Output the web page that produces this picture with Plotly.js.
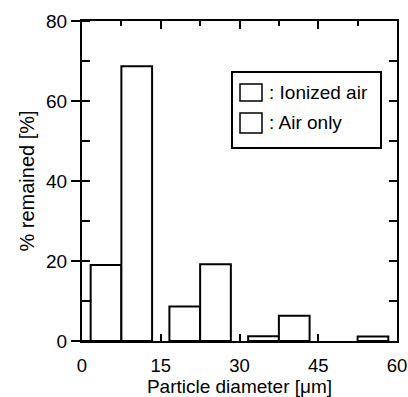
<!DOCTYPE html>
<html>
<head>
<meta charset="utf-8">
<script src="https://cdn.plot.ly/plotly-3.0.1.min.js"></script>
<style>html,body{margin:0;padding:0;background:#fff;}#chart{width:408px;height:397px;}</style>
</head>
<body>
<div id="chart"></div>
<script>
// Data
const binCenters = [7.5, 22.5, 37.5, 52.5];          // particle diameter bins [μm]
const ionizedAir = [19.0, 8.6, 1.2, 0];                // % remained, ionized air
const airOnly    = [68.7, 19.2, 6.3, 1.1];             // % remained, air only
const seriesNames = [': Ionized air', ': Air only'];
const xTickVals = [0, 15, 30, 45, 60];
const yTickVals = [0, 20, 40, 60, 80];

const FONT = 'Liberation Sans, Arial, Helvetica, sans-serif';
const barStyle = vals => ({color: '#ffffff', line: {color: '#000000', width: vals.map(v => v > 0 ? 2 : 0)}});

const traces = [
  {type: 'bar', x: binCenters, y: ionizedAir, name: seriesNames[0], marker: barStyle(ionizedAir), showlegend: false, hoverinfo: 'skip'},
  {type: 'bar', x: binCenters, y: airOnly, name: seriesNames[1], marker: barStyle(airOnly), showlegend: false, hoverinfo: 'skip'}
];

// paper-coordinate helpers for the hand-drawn legend box
const L = 82, R = 397, T = 21, B = 341;
const px = v => (v - L) / (R - L);
const py = v => (B - v) / (B - T);

const layout = {
  width: 408, height: 397,
  margin: {l: 82, r: 11, t: 21, b: 56},
  paper_bgcolor: '#fff', plot_bgcolor: '#fff',
  font: {family: FONT, size: 19, color: '#000'},
  barmode: 'group', bargap: 0.22, bargroupgap: 0,
  showlegend: false,
  xaxis: {
    range: [0, 60], tickvals: xTickVals, ticktext: xTickVals.map(String),
    ticks: 'inside', ticklen: 7, tickwidth: 2, tickcolor: '#000',
    tickfont: {size: 18.5},
    showline: true, linewidth: 2, linecolor: '#000',
    showgrid: false, zeroline: false, ticklabelstandoff: 7,
    title: {text: 'Particle diameter [μm]', font: {size: 19}, standoff: 15},
    automargin: false
  },
  xaxis2: {
    overlaying: 'x', side: 'top', range: [0, 60], matches: 'x',
    tickvals: [15, 30, 45], ticks: 'inside', ticklen: 8, tickwidth: 2, tickcolor: '#000',
    minor: {tickvals: [7.5, 22.5, 37.5, 52.5], ticks: 'inside', ticklen: 5, tickwidth: 2, tickcolor: '#000'},
    showticklabels: false, showline: true, linewidth: 2, linecolor: '#000',
    showgrid: false, zeroline: false
  },
  yaxis: {
    range: [0, 80], tickvals: yTickVals, ticktext: yTickVals.map(String),
    ticks: 'outside', ticklen: 9, tickwidth: 2, tickcolor: '#000',
    tickfont: {size: 19},
    minor: {dtick: 10, ticks: 'inside', ticklen: 8, tickwidth: 2, tickcolor: '#000'},
    showline: true, linewidth: 2, linecolor: '#000',
    showgrid: false, zeroline: false,
    title: {text: '% remained [%]', font: {size: 20}, standoff: 6},
    automargin: false
  },
  yaxis2: {
    overlaying: 'y', side: 'right', range: [0, 80], matches: 'y',
    dtick: 10, ticks: 'inside', ticklen: 8, tickwidth: 2, tickcolor: '#000',
    showticklabels: false, showline: true, linewidth: 2, linecolor: '#000',
    showgrid: false, zeroline: false
  },
  shapes: [
    {type: 'rect', xref: 'paper', yref: 'paper', x0: px(232), x1: px(381), y0: py(148), y1: py(72),
     line: {color: '#000', width: 2}, fillcolor: '#fff', layer: 'above'},
    {type: 'rect', xref: 'paper', yref: 'paper', x0: px(240), x1: px(262), y0: py(101), y1: py(84),
     line: {color: '#000', width: 1.5}, fillcolor: '#fff', layer: 'above'},
    {type: 'rect', xref: 'paper', yref: 'paper', x0: px(240), x1: px(262), y0: py(133), y1: py(113),
     line: {color: '#000', width: 1.5}, fillcolor: '#fff', layer: 'above'}
  ],
  annotations: [
    {xref: 'paper', yref: 'paper', x: px(267), y: py(92), xanchor: 'left', yanchor: 'middle',
     text: seriesNames[0], showarrow: false, font: {size: 19}},
    {xref: 'paper', yref: 'paper', x: px(267), y: py(122), xanchor: 'left', yanchor: 'middle',
     text: seriesNames[1], showarrow: false, font: {size: 19}}
  ]
};

// invisible helper trace so the mirrored top/right axes are drawn
traces.push({type: 'scatter', x: binCenters, y: airOnly, xaxis: 'x2', yaxis: 'y2', mode: 'markers',
  marker: {opacity: 0}, showlegend: false, hoverinfo: 'skip'});

Plotly.newPlot('chart', traces, layout, {staticPlot: true});
</script>
</body>
</html>
